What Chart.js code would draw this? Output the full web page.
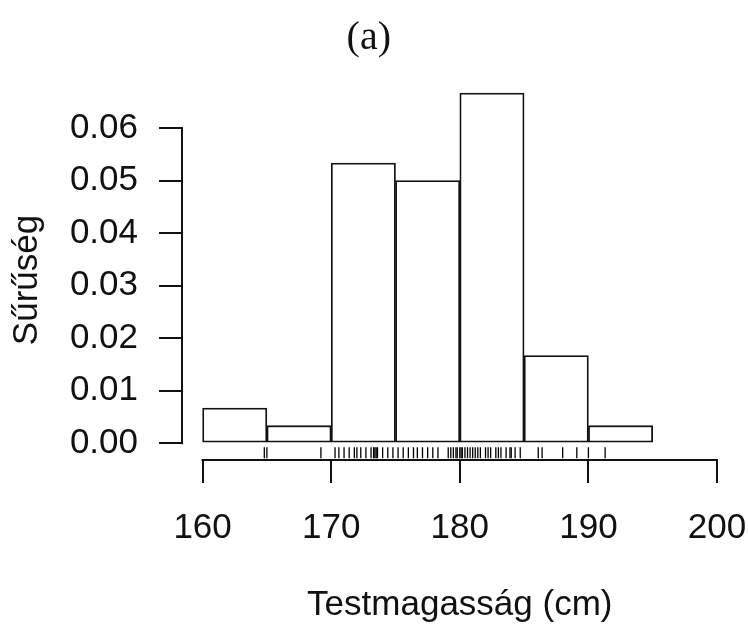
<!DOCTYPE html>
<html>
<head>
<meta charset="utf-8">
<script src="https://cdn.jsdelivr.net/npm/chart.js@4"></script>
<style>
html, body { margin: 0; padding: 0; background: #ffffff; }
canvas { display: block; }
</style>
</head>
<body>
<canvas id="c" width="748" height="640"></canvas>
<script>
// ---- data ----
const binStarts = [160, 165, 170, 175, 180, 185, 190];
const binWidth = 5;
const densities = [0.00667, 0.00333, 0.05333, 0.05, 0.06667, 0.01667, 0.00333];
const rugHeights = [
  164.8, 165.0,
  169.2,
  170.3, 170.6, 171.0, 171.4, 171.8, 172.0, 172.3, 172.7, 173.1, 173.3, 173.4, 173.5, 173.6, 174.0, 174.4, 174.8,
  175.2, 175.6, 176.0, 176.4, 176.7, 177.1, 177.5, 177.9, 178.3, 179.1, 179.3, 179.5, 179.7, 179.8, 180.0,
  180.1, 180.2, 180.4, 180.6, 180.8, 181.0, 181.2, 181.4, 181.6, 182.0, 182.2, 182.4, 182.8, 183.0, 183.2, 183.6, 183.9, 184.0, 184.3, 184.7,
  186.1, 186.4, 188.0, 189.1, 190.0,
  191.3
];
const xTicks = [160, 170, 180, 190, 200];
const yTicks = [0, 0.01, 0.02, 0.03, 0.04, 0.05, 0.06];
const titleText = '(a)';
const xTitle = 'Testmagasság (cm)';
const yTitle = 'Sűrűség';

// ---- styling constants ----
const INK = '#111111';
const RUG_Y = -0.0018;
const SANS = 'Liberation Sans';

const axisLines = {
  id: 'axisLines',
  afterDraw(chart) {
    const { ctx, chartArea, scales } = chart;
    const x = scales.x, y = scales.y;
    ctx.save();
    ctx.strokeStyle = INK;
    ctx.lineWidth = 2;
    ctx.lineCap = 'square';
    ctx.beginPath();
    ctx.moveTo(x.getPixelForValue(xTicks[0]), chartArea.bottom);
    ctx.lineTo(x.getPixelForValue(xTicks[xTicks.length - 1]), chartArea.bottom);
    ctx.moveTo(chartArea.left, y.getPixelForValue(yTicks[0]));
    ctx.lineTo(chartArea.left, y.getPixelForValue(yTicks[yTicks.length - 1]));
    ctx.stroke();
    ctx.restore();
  }
};

new Chart(document.getElementById('c'), {
  type: 'bar',
  data: {
    datasets: [
      {
        type: 'bar',
        data: binStarts.map((s, i) => ({ x: s + binWidth / 2, y: densities[i] })),
        backgroundColor: '#ffffff',
        borderColor: INK,
        borderWidth: 1.8,
        borderSkipped: false,
        barPercentage: 1,
        categoryPercentage: 1,
        clip: false,
        order: 1
      },
      {
        type: 'scatter',
        data: rugHeights.map(h => ({ x: h, y: RUG_Y })),
        pointStyle: 'line',
        rotation: 90,
        radius: 5.5,
        borderColor: '#000000',
        backgroundColor: '#000000',
        borderWidth: 1.3,
        order: 0
      }
    ]
  },
  options: {
    responsive: false,
    animation: false,
    devicePixelRatio: 1,
    layout: { padding: { left: 0, right: 10.4, top: 0, bottom: 0 } },
    plugins: {
      legend: { display: false },
      tooltip: { enabled: false },
      title: {
        display: true,
        text: titleText,
        color: INK,
        font: { family: 'Liberation Serif', size: 40, weight: 'normal' },
        padding: { top: 14, bottom: 38 }
      }
    },
    scales: {
      x: {
        type: 'linear',
        min: 158.4,
        max: 201.6,
        offset: false,
        afterBuildTicks(s) { s.ticks = xTicks.map(v => ({ value: v })); },
        afterFit(s) { s.height = 180; s.paddingLeft = 0; s.paddingRight = 0; },
        grid: { drawOnChartArea: false, drawTicks: true, tickLength: 23, color: INK, lineWidth: 2, offset: false },
        border: { display: false },
        ticks: {
          padding: 24,
          color: INK,
          autoSkip: false,
          maxRotation: 0,
          font: { family: SANS, size: 35 },
          callback: v => String(v)
        },
        title: {
          display: true,
          text: xTitle,
          color: INK,
          font: { family: SANS, size: 35 },
          padding: { top: 0, bottom: 14 }
        }
      },
      y: {
        type: 'linear',
        min: -0.0032,
        max: 0.06533,
        afterBuildTicks(s) { s.ticks = yTicks.map(v => ({ value: v })); },
        afterFit(s) { s.width = 182; s.paddingTop = 0; s.paddingBottom = 0; },
        grid: { drawOnChartArea: false, drawTicks: true, tickLength: 23, color: INK, lineWidth: 2 },
        border: { display: false },
        ticks: {
          padding: 21,
          color: INK,
          autoSkip: false,
          font: { family: SANS, size: 35 },
          callback: v => Number(v).toFixed(2)
        },
        title: {
          display: true,
          text: yTitle,
          color: INK,
          font: { family: SANS, size: 35 },
          padding: { top: 6, bottom: 0 }
        }
      }
    }
  },
  plugins: [axisLines]
});
</script>
</body>
</html>
